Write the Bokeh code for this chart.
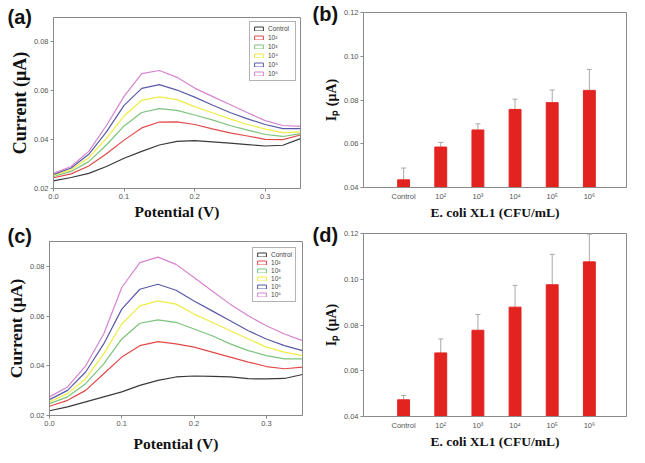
from bokeh.plotting import figure
from bokeh.layouts import column, row
from bokeh.models import (ColumnDataSource, FixedTicker, Legend, LegendItem,
                          Range1d, Whisker, TeeHead, NumeralTickFormatter)
from bokeh.embed import file_html
from bokeh.resources import INLINE

# ---------------- data ----------------
potential = [0.0, 0.025, 0.05, 0.075, 0.1, 0.125, 0.15, 0.175, 0.2, 0.225, 0.25, 0.275, 0.3, 0.325, 0.35]
series_labels = ["Control", "10²", "10³", "10⁴", "10⁵", "10⁶"]

# panel (a) voltammograms
a_control = [0.0231, 0.0245, 0.0262, 0.0290, 0.0324, 0.0352, 0.0378, 0.0393, 0.0396, 0.0391, 0.0386, 0.0380, 0.0374, 0.0377, 0.0404]
a_1e2 = [0.0244, 0.0260, 0.0292, 0.0342, 0.0398, 0.0448, 0.0472, 0.0473, 0.0462, 0.0444, 0.0428, 0.0415, 0.0401, 0.0400, 0.0419]
a_1e3 = [0.0249, 0.0270, 0.0310, 0.0378, 0.0456, 0.0511, 0.0527, 0.0520, 0.0501, 0.0481, 0.0458, 0.0439, 0.0421, 0.0413, 0.0425]
a_1e4 = [0.0254, 0.0277, 0.0326, 0.0405, 0.0497, 0.0561, 0.0575, 0.0564, 0.0535, 0.0510, 0.0485, 0.0462, 0.0443, 0.0429, 0.0432]
a_1e5 = [0.0258, 0.0284, 0.0340, 0.0432, 0.0540, 0.0610, 0.0625, 0.0603, 0.0574, 0.0542, 0.0511, 0.0485, 0.0462, 0.0445, 0.0445]
a_1e6 = [0.0262, 0.0290, 0.0352, 0.0458, 0.0577, 0.0670, 0.0683, 0.0655, 0.0611, 0.0577, 0.0544, 0.0510, 0.0478, 0.0458, 0.0454]

# panel (c) voltammograms
c_control = [0.0219, 0.0235, 0.0255, 0.0275, 0.0295, 0.0321, 0.0341, 0.0355, 0.0359, 0.0357, 0.0355, 0.0348, 0.0347, 0.0349, 0.0365]
c_1e2 = [0.0237, 0.0261, 0.0301, 0.0368, 0.0435, 0.0481, 0.0497, 0.0488, 0.0475, 0.0455, 0.0435, 0.0415, 0.0397, 0.0388, 0.0395]
c_1e3 = [0.0248, 0.0275, 0.0328, 0.0408, 0.0508, 0.0571, 0.0585, 0.0575, 0.0548, 0.0521, 0.0488, 0.0461, 0.0441, 0.0428, 0.0428]
c_1e4 = [0.0255, 0.0288, 0.0348, 0.0448, 0.0568, 0.0641, 0.0661, 0.0648, 0.0608, 0.0575, 0.0541, 0.0508, 0.0475, 0.0455, 0.0441]
c_1e5 = [0.0264, 0.0301, 0.0375, 0.0488, 0.0628, 0.0708, 0.0728, 0.0704, 0.0661, 0.0621, 0.0581, 0.0541, 0.0508, 0.0481, 0.0461]
c_1e6 = [0.0275, 0.0315, 0.0400, 0.0528, 0.0715, 0.0815, 0.0837, 0.0808, 0.0755, 0.0701, 0.0648, 0.0601, 0.0561, 0.0528, 0.0501]

# panels (b), (d) peak currents
bar_categories = ["Control", "10²", "10³", "10⁴", "10⁵", "10⁶"]
b_ip = [0.0435, 0.0585, 0.0663, 0.0757, 0.0788, 0.0844]
b_err = [0.0054, 0.0021, 0.0028, 0.0047, 0.0058, 0.0096]
d_ip = [0.0473, 0.0678, 0.0777, 0.0878, 0.0976, 0.1076]
d_err = [0.0019, 0.0061, 0.0069, 0.0095, 0.0133, 0.0121]

cv_x_ticks = [0.0, 0.1, 0.2, 0.3]
cv_y_ticks = [0.02, 0.04, 0.06, 0.08]
bar_y_ticks = [0.04, 0.06, 0.08, 0.10, 0.12]

# ---------------- style ----------------
GREY = "#8a8a8a"
TICK_TXT = "#555555"
COLORS = ["#3a3a3a", "#e34a4a", "#7cc47c", "#eded45", "#5a5aa8", "#d783d0"]
RED = "#e32320"
ERR = "#a8a8a8"
SERIF = "Liberation Serif"
SANS = "Liberation Sans"
NAN = float("nan")


def style_axes(p, label_size_x, label_size_y, x_lab_standoff, y_lab_standoff):
    for ax in (p.xaxis[0], p.yaxis[0]):
        ax.axis_line_color = GREY
        ax.major_tick_line_color = GREY
        ax.major_tick_out = 3
        ax.major_tick_in = 0
        ax.minor_tick_line_color = None
        ax.major_label_text_font = SANS
        ax.major_label_text_font_size = "7.5px"
        ax.major_label_text_color = TICK_TXT
        ax.major_label_standoff = 2
        ax.axis_label_text_font = SERIF
        ax.axis_label_text_font_style = "bold"
        ax.axis_label_text_color = "#111111"
    p.xaxis.axis_label_text_font_size = label_size_x
    p.yaxis.axis_label_text_font_size = label_size_y
    p.xaxis.axis_label_standoff = x_lab_standoff
    p.yaxis.axis_label_standoff = y_lab_standoff
    p.grid.visible = False
    p.outline_line_color = GREY
    p.outline_line_width = 1


def set_tag(p, tag, offset, standoff):
    p.title.text = tag
    p.title.align = "left"
    p.title.offset = offset
    p.title.standoff = standoff
    p.title.vertical_align = "bottom"
    p.title.text_font = SANS
    p.title.text_font_size = "20px"
    p.title.text_font_style = "bold"
    p.title.text_color = "#111111"


def cv_fig(series, w, h, ml, mr, mt, mb, tag, tag_off, tag_standoff, ylab_size, xlab_standoff,
           legend_margin, legend_label_w, legend_spacing):
    p = figure(width=w, height=h, x_range=Range1d(0.0, 0.35), y_range=Range1d(0.02, 0.09),
               output_backend="svg", toolbar_location=None,
               min_border_left=ml, min_border_right=mr, min_border_top=mt, min_border_bottom=mb,
               x_axis_label="Potential (V)", y_axis_label="Current (μA)")
    style_axes(p, "15.5px", ylab_size, xlab_standoff, 1)
    p.xaxis.ticker = FixedTicker(ticks=cv_x_ticks)
    p.yaxis.ticker = FixedTicker(ticks=cv_y_ticks)
    p.xaxis.formatter = NumeralTickFormatter(format="0.0")
    p.yaxis.formatter = NumeralTickFormatter(format="0.00")
    items = []
    for vals, col, lab in zip(series, COLORS, series_labels):
        p.line(potential, vals, line_color=col, line_width=1.2)
        swatch = p.quad(left=[NAN], right=[NAN], top=[NAN], bottom=[NAN], fill_color="white",
                        line_color=col, line_width=1)
        items.append(LegendItem(label=lab, renderers=[swatch]))
    leg = Legend(items=items, location="top_right", margin=legend_margin,
                 glyph_width=11, glyph_height=5, label_height=7, label_width=legend_label_w,
                 label_standoff=4, spacing=legend_spacing, padding=3,
                 label_text_font=SANS, label_text_font_size="6.5px",
                 label_text_color="#444444", border_line_color="#666666",
                 border_line_width=1, background_fill_color="white")
    p.add_layout(leg)
    set_tag(p, tag, tag_off, tag_standoff)
    return p


def bar_fig(values, errs, w, h, ml, mr, mt, mb, tag, tag_off, tag_standoff):
    xs = list(range(len(bar_categories)))
    ymin = bar_y_ticks[0]
    p = figure(width=w, height=h, x_range=Range1d(-1.08, 6.0), y_range=Range1d(ymin, bar_y_ticks[-1]),
               output_backend="svg", toolbar_location=None,
               min_border_left=ml, min_border_right=mr, min_border_top=mt, min_border_bottom=mb,
               x_axis_label="E. coli XL1 (CFU/mL)", y_axis_label="Iₚ (μA)")
    style_axes(p, "13.5px", "14px", 1, 2)
    p.xaxis.ticker = FixedTicker(ticks=xs)
    p.xaxis.major_label_overrides = {i: c for i, c in zip(xs, bar_categories)}
    p.xaxis.major_tick_out = 0
    p.xaxis.major_label_standoff = 4
    p.yaxis.ticker = FixedTicker(ticks=bar_y_ticks)
    p.yaxis.formatter = NumeralTickFormatter(format="0.00")
    src = ColumnDataSource(dict(x=xs, top=values,
                                upper=[v + e for v, e in zip(values, errs)]))
    p.add_layout(Whisker(source=src, base="x", upper="upper", lower="top", dimension="height",
                         line_color=ERR, line_width=1, lower_head=None,
                         upper_head=TeeHead(size=5, line_color=ERR, line_width=1)))
    p.vbar(x="x", top="top", bottom=ymin, width=0.32, source=src,
           fill_color=RED, line_color=RED)
    set_tag(p, tag, tag_off, tag_standoff)
    return p


pa = cv_fig([a_control, a_1e2, a_1e3, a_1e4, a_1e5, a_1e6], 308, 222, 53, 8, 17, 33,
            "(a)", -46, -20, "18px", 1, 4, 24, 2)
pb = bar_fig(b_ip, b_err, 336, 222, 55, 18, 12, 29, "(b)", -51, -24)
pc = cv_fig([c_control, c_1e2, c_1e3, c_1e4, c_1e5, c_1e6], 308, 240, 49, 6, 19, 47,
            "(c)", -42, -10, "17.5px", 6, 6, 18, 1)
pd = bar_fig(d_ip, d_err, 336, 240, 55, 18, 11, 46, "(d)", -51, -24)

# each figure wrapped in its own column so that the frames are not aligned across a row
layout = column(row(column(pa), column(pb)), row(column(pc), column(pd)))
open("out.html", "w").write(file_html(layout, INLINE))
